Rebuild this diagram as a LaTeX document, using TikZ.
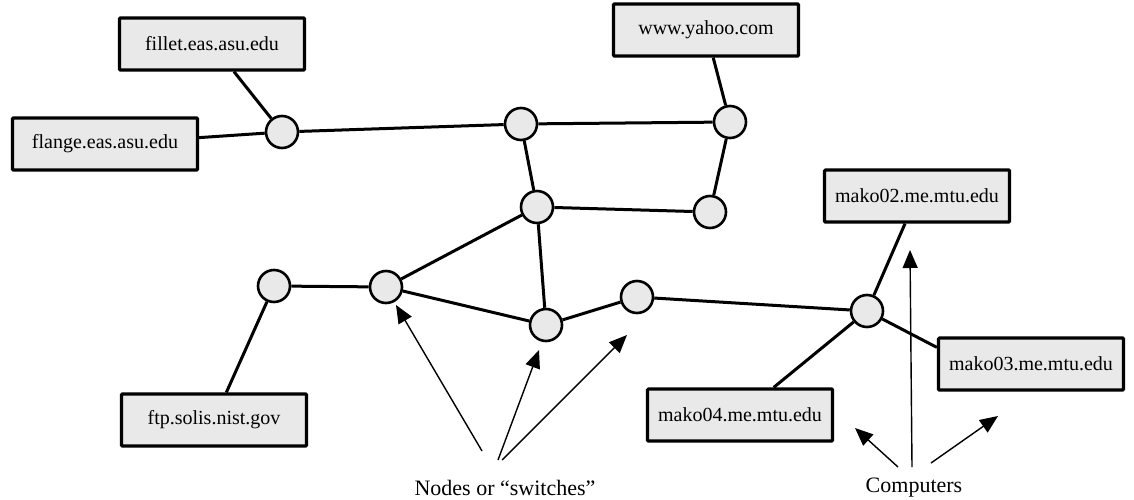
\documentclass[tikz,border=0pt]{standalone}
\usepackage{fontspec}
\setmainfont{Liberation Serif}
\usetikzlibrary{arrows.meta}
\definecolor{boxfill}{HTML}{E9E9E9}
\tikzset{
  host/.style={draw, line width=3.2pt, fill=boxfill, rounded corners=1pt,
    minimum width=185pt, minimum height=52pt, inner sep=0pt,
    font=\fontsize{20}{24}\selectfont},
  switch/.style={circle, draw, line width=2.6pt, fill=boxfill,
    minimum size=32pt, inner sep=0pt},
  link/.style={line width=3pt},
  pointer/.style={line width=1.4pt, -{Triangle[length=18pt,width=15pt]}},
  caption/.style={font=\fontsize{22}{26}\selectfont}
}
\begin{document}
\begin{tikzpicture}[x=1pt, y=-1pt]
  \useasboundingbox (0,0) rectangle (1134,500);

  % hosts
  \node[host] (fillet) at (212,44)  {fillet.eas.asu.edu};
  \node[host] (flange) at (105,144) {flange.eas.asu.edu};
  \node[host] (yahoo)  at (706,30)  {www.yahoo.com};
  \node[host] (mako2)  at (917,196) {mako02.me.mtu.edu};
  \node[host] (mako3)  at (1031,364) {mako03.me.mtu.edu};
  \node[host] (mako4)  at (740,415) {mako04.me.mtu.edu};
  \node[host] (ftp)    at (214,420) {ftp.solis.nist.gov};

  % switches
  \node[switch] (s1)  at (282,132) {};
  \node[switch] (s2)  at (521,124) {};
  \node[switch] (s3)  at (730,122) {};
  \node[switch] (s4)  at (537,207) {};
  \node[switch] (s5)  at (710,212) {};
  \node[switch] (s6)  at (274,286) {};
  \node[switch] (s7)  at (386,287) {};
  \node[switch] (s8)  at (546,325) {};
  \node[switch] (s9)  at (637,297) {};
  \node[switch] (s10) at (867,311) {};

  % links
  \begin{scope}[link]
    \draw (fillet) -- (s1);
    \draw (flange) -- (s1);
    \draw (s1) -- (s2);
    \draw (s2) -- (s3);
    \draw (yahoo) -- (s3);
    \draw (s2) -- (s4);
    \draw (s3) -- (s5);
    \draw (s4) -- (s5);
    \draw (s4) -- (s7);
    \draw (s4) -- (s8);
    \draw (s6) -- (s7);
    \draw (s6) -- (ftp);
    \draw (s7) -- (s8);
    \draw (s8) -- (s9);
    \draw (s9) -- (s10);
    \draw (s10) -- (mako2);
    \draw (s10) -- (mako3.170);
    \draw (s10) -- (mako4);
  \end{scope}

  % captions and pointers
  \node[caption] (swlabel) at (505,488) {Nodes or “switches”};
  \node[caption] (pclabel) at (914,488) {Computers};

  \coordinate (a1) at (482,451);
  \coordinate (a2) at (498,460);
  \coordinate (a3) at (502,460);
  \coordinate (t1) at (396,305);
  \coordinate (t2) at (539,350);
  \coordinate (t3) at (627,335);
  \draw[pointer] (a1) -- (t1);
  \draw[pointer] (a2) -- (t2);
  \draw[pointer] (a3) -- (t3);

  \coordinate (b1) at (898,467);
  \coordinate (b2) at (912,467);
  \coordinate (b3) at (931,463);
  \coordinate (u1) at (855,428);
  \coordinate (u2) at (910,250);
  \coordinate (u3) at (998,416);
  \draw[pointer] (b1) -- (u1);
  \draw[pointer] (b2) -- (u2);
  \draw[pointer] (b3) -- (u3);
\end{tikzpicture}
\end{document}
